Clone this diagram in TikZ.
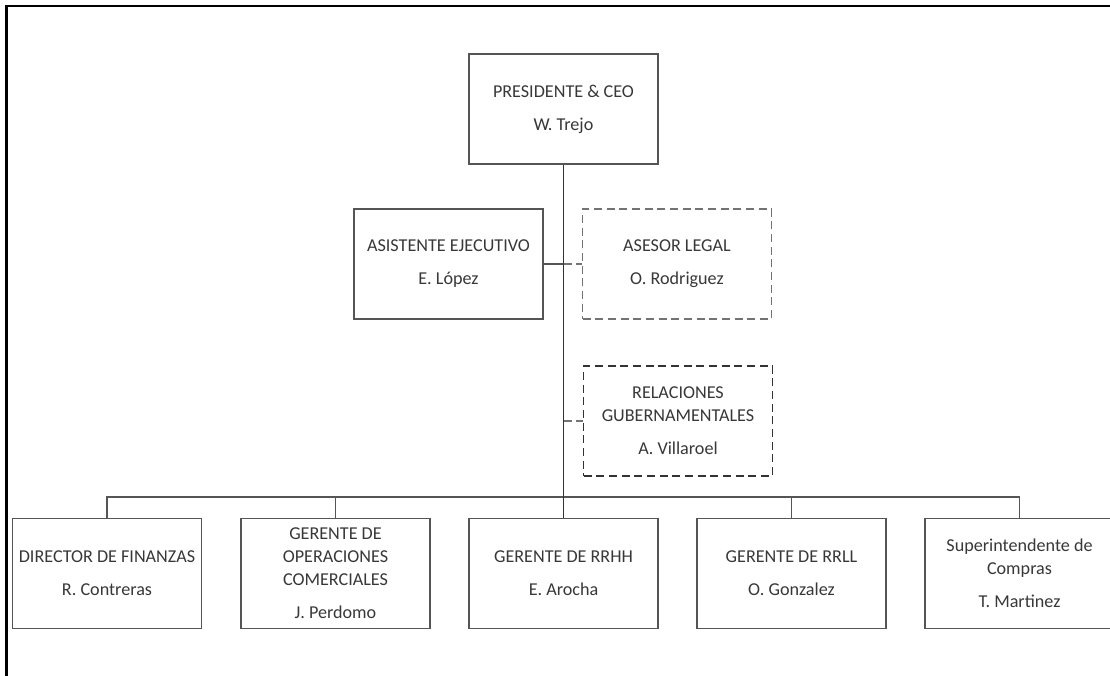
\documentclass[tikz,border=0pt]{standalone}
\usepackage{fontspec}
\setmainfont{Carlito}
\definecolor{txt}{HTML}{383838}
\definecolor{ln}{HTML}{555555}
\tikzset{
  orgbox/.style={draw=ln, line width=1.05pt, rectangle, inner sep=0pt,
    minimum width=141.75pt, minimum height=82.5pt, align=center,
    text=txt, font=\fontsize{13.6}{17.25}\selectfont},
  advbox/.style={orgbox, draw=black!55, dash pattern=on 6pt off 3.5pt},
  advboxdark/.style={orgbox, draw=black!80, line width=1.4pt, dash pattern=on 6pt off 3.5pt},
  conn/.style={draw=ln, line width=1.1pt},
  mainconn/.style={draw=black!80, line width=1.4pt},
  dconn/.style={draw=black!55, line width=1pt, dash pattern=on 6pt off 3.5pt},
  frameline/.style={draw=black, line width=1.6pt}
}
\begin{document}
\begin{tikzpicture}[x=0.75pt, y=-0.75pt]
\useasboundingbox (0,0) rectangle (1110,675);
\clip (0,0) rectangle (1110,675);
\fill[white] (0,0) rectangle (1110,675);
\draw[frameline] (6.5,680) -- (6.5,6) -- (1115,6);

\node[orgbox] (ceo) at (563.5,109) {PRESIDENTE \& CEO\\[7.5pt]W. Trejo};
\node[orgbox] (asis) at (448.5,264) {ASISTENTE EJECUTIVO\\[7.5pt]E. López};
\node[advbox] (legal) at (677,264) {ASESOR LEGAL\\[7.5pt]O. Rodriguez};
\node[advboxdark] (rel) at (678,421) {RELACIONES\\GUBERNAMENTALES\\[7.5pt]A. Villaroel};

\node[orgbox] (fin) at (107,573.5) {DIRECTOR DE FINANZAS\\[7.5pt]R. Contreras};
\node[orgbox] (oper) at (335.5,573.5) {GERENTE DE\\OPERACIONES\\COMERCIALES\\[7.5pt]J. Perdomo};
\node[orgbox] (rrhh) at (563.5,573.5) {GERENTE DE RRHH\\[7.5pt]E. Arocha};
\node[orgbox] (rrll) at (791.5,573.5) {GERENTE DE RRLL\\[7.5pt]O. Gonzalez};
\node[orgbox] (sup) at (1019.5,573.5) {Superintendente de\\Compras\\[7.5pt]T. Martinez};

\coordinate (bus) at (563.5,497);
\coordinate (j1) at (ceo.south |- asis.east);
\coordinate (j2) at (ceo.south |- rel.west);

\draw[conn] (asis.east) -- (j1);
\draw[dconn] (j1) -- (legal.west);
\draw[dconn] (j2) -- (rel.west);
\draw[conn] (fin.north) -- (fin.north |- bus) -- (sup.north |- bus) -- (sup.north);
\draw[conn] (oper.north) -- (oper.north |- bus);
\draw[conn] (rrll.north) -- (rrll.north |- bus);
\draw[mainconn] (ceo.south) -- (rrhh.north);
\end{tikzpicture}
\end{document}
